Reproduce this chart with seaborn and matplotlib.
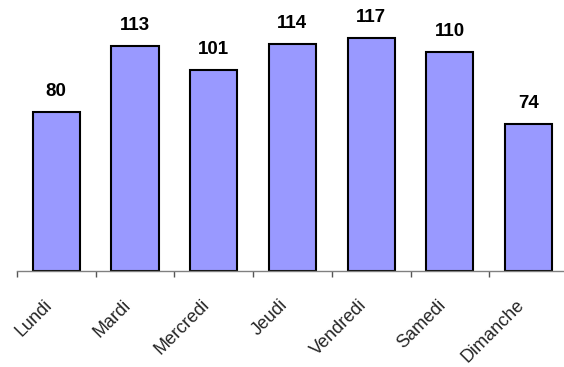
import numpy as np
import pandas as pd
import seaborn as sns
import matplotlib.pyplot as plt
from matplotlib.transforms import ScaledTranslation

jours = ["Lundi", "Mardi", "Mercredi", "Jeudi", "Vendredi", "Samedi", "Dimanche"]
valeurs = [80, 113, 101, 114, 117, 110, 74]

df = pd.DataFrame({"jour": jours, "valeur": valeurs})

sns.set_style("white")
plt.rcParams["font.family"] = ["Liberation Sans", "DejaVu Sans"]

fig = plt.figure(figsize=(5.64, 3.67), dpi=100)
ax = fig.add_axes([0.030, 0.2616, 0.977, 0.7384])

sns.barplot(data=df, x="jour", y="valeur", color="#9999FF", width=0.6,
            edgecolor="black", linewidth=1.5, saturation=1, ax=ax)

for i, v in enumerate(valeurs):
    ax.text(i, v + 6, str(v), ha="center", va="bottom",
            fontsize=13.5, fontweight="bold", color="black")

ax.set_ylim(0, 136)
ax.set_xlim(-0.5, 6.5)
ax.set_yticks([])
ax.set_xlabel("")
ax.set_ylabel("")

# ticks between categories, labels at centers
ax.set_xticks(np.arange(-0.5, 7, 1), minor=True)
ax.tick_params(axis="x", which="minor", length=4, width=1, color="#555555", bottom=True)
ax.tick_params(axis="x", which="major", length=0, pad=17)
ax.set_xticks(range(len(jours)))
ax.set_xticklabels(jours, rotation=45, ha="right", rotation_mode="anchor", fontsize=13)
shift = ScaledTranslation(-0.13, -0.02, fig.dpi_scale_trans)
for lab in ax.get_xticklabels():
    lab.set_transform(lab.get_transform() + shift)

for s in ["left", "top", "right"]:
    ax.spines[s].set_visible(False)
ax.spines["bottom"].set_color("#808080")
ax.spines["bottom"].set_linewidth(1)

fig.savefig("out.png", dpi=100)
